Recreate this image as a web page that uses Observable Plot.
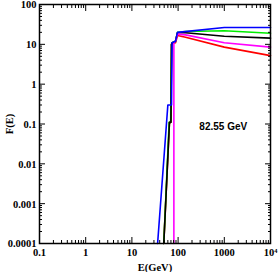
<!DOCTYPE html>
<html><head><meta charset="utf-8">
<script src="https://cdn.jsdelivr.net/npm/d3@7"></script>
<script src="https://cdn.jsdelivr.net/npm/@observablehq/plot@0.6"></script>
<style>body{margin:0;background:#fff} svg{display:block}</style>
</head><body><div id="chart"></div>
<script>
const xTicks = [0.1, 1, 10, 100, 1000, 10000];
const xTickLabels = ["0.1", "1", "10", "100", "1000", "10⁴"];
const yTicks = [0.0001, 0.001, 0.01, 0.1, 1, 10, 100];
const yTickLabels = ["0.0001", "0.001", "0.01", "0.1", "1", "10", "100"];
const xLabel = "E(GeV)";
const yLabel = "F(E)";
const note = "82.55 GeV";
const noteE = 950, noteF = 0.086;

const redE = [49, 65, 70, 72, 75, 88, 97, 145, 1000, 10000];
const redF = [0.0001, 0.11, 0.11, 10, 10.5, 11, 16.6, 15, 8.5, 5.2];
const magentaE = [81, 81, 88, 97, 145, 1000, 10000];
const magentaF = [0.0001, 11, 12, 18, 17.3, 11, 8.5];
const greenE = [49, 64, 69, 72, 75, 88, 97, 145, 1000, 10000];
const greenF = [0.0001, 0.11, 0.11, 10, 11, 12, 20, 21, 22, 19];
const blackE = [49, 65, 70, 72, 75, 88, 97, 145, 1000, 10000];
const blackF = [0.0001, 0.11, 0.11, 10, 11, 12, 19.5, 19.5, 16, 14.3];
const blueE = [36, 60, 72, 74, 88, 97, 1000, 10000];
const blueF = [0.0001, 0.3, 0.3, 11, 12, 20, 26.5, 26.5];

const minor = (majors) => majors.slice(0, -1).flatMap(m => [2,3,4,5,6,7,8,9].map(k => +(m * k).toPrecision(3)));
const xMinor = minor(xTicks);
const yMinor = minor(yTicks);

const serif = "'Liberation Serif', serif";
const series = [
  [redE, redF, "#ff0000"],
  [greenE, greenF, "#00ee00"],
  [blackE, blackF, "#000000"],
  [magentaE, magentaF, "#ff00ff"],
  [blueE, blueF, "#0000ff"]
];

const chart = Plot.plot({
  width: 278, height: 272,
  marginLeft: 39, marginRight: 8, marginTop: 4, marginBottom: 29,
  style: {fontFamily: serif, fontSize: "10.5px", fontWeight: "bold", background: "#fff", color: "#000"},
  x: {type: "log", domain: [0.1, 10000]},
  y: {type: "log", domain: [0.0001, 100]},
  marks: [
    ...series.map(([E, F, c]) => Plot.line(E, {x: E, y: F, stroke: c, strokeWidth: 1.6})),
    Plot.text([note], {x: [noteE], y: [noteF], text: d => d, fontFamily: "'Liberation Sans', sans-serif", fontSize: 10, fontWeight: "bold"}),
    Plot.axisX(xTicks, {anchor: "bottom", tickSize: 0, tickPadding: 5, tickFormat: d => xTickLabels[xTicks.indexOf(d)], label: xLabel, labelAnchor: "center", labelOffset: 27, labelArrow: false}),
    Plot.axisY(yTicks, {anchor: "left", tickSize: 0, tickPadding: 3, tickFormat: d => yTickLabels[yTicks.indexOf(d)], label: yLabel, labelAnchor: "center", labelOffset: 34, labelArrow: false, dy: 0.5}),
    Plot.axisX(xTicks, {anchor: "bottom", tickSize: -6, text: null, label: null}),
    Plot.axisX(xTicks, {anchor: "top", tickSize: -6, text: null, label: null}),
    Plot.axisX(xMinor, {anchor: "bottom", tickSize: -3, text: null, label: null}),
    Plot.axisX(xMinor, {anchor: "top", tickSize: -3, text: null, label: null}),
    Plot.axisY(yTicks, {anchor: "left", tickSize: -6, text: null, label: null}),
    Plot.axisY(yTicks, {anchor: "right", tickSize: -6, text: null, label: null}),
    Plot.axisY(yMinor, {anchor: "left", tickSize: -3, text: null, label: null}),
    Plot.axisY(yMinor, {anchor: "right", tickSize: -3, text: null, label: null}),
    Plot.frame({stroke: "#000", strokeWidth: 1.5})
  ]
});
document.getElementById("chart").appendChild(chart);
</script>
</body></html>
